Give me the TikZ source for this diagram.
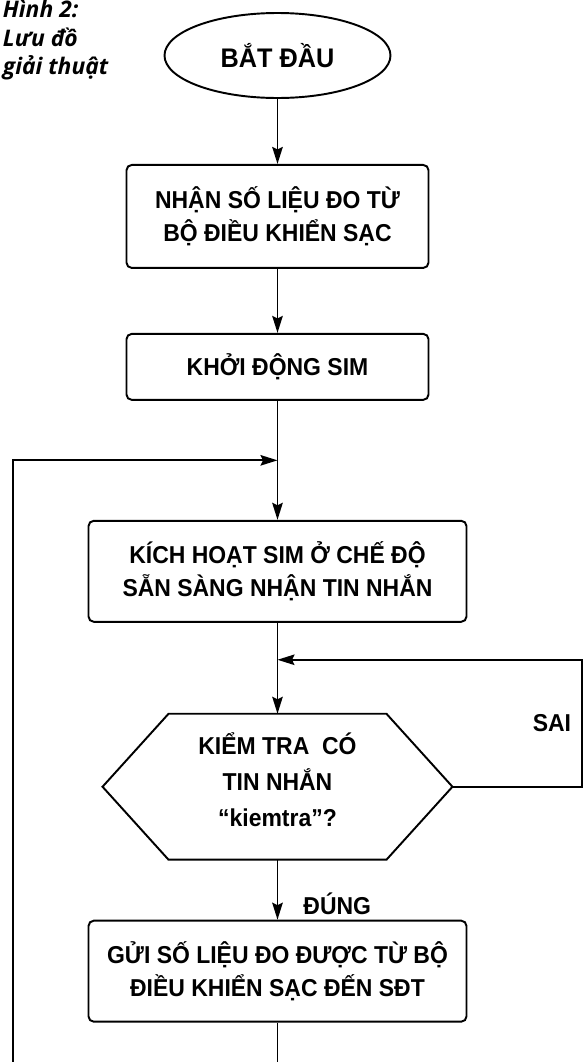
\documentclass[tikz,border=0pt]{standalone}
\usepackage{fontspec}
\setmainfont{Liberation Sans}
\newfontfamily\flowfont[FakeStretch=0.94]{Liberation Sans}
\newfontfamily\capfont{Open Sans}
\usetikzlibrary{arrows.meta,positioning,shapes.geometric,calc}

\begin{document}
\begin{tikzpicture}[>={Stealth[length=0.34cm,width=0.21cm,inset=0.05cm]},line width=1.1pt,
    node distance=1.3cm,
    every node/.style={font=\flowfont\bfseries\fontsize{13.9}{19}\selectfont,inner sep=0pt},
    term/.style={ellipse,draw,minimum width=4.52cm,minimum height=1.7cm,
      font=\flowfont\bfseries\fontsize{15.3}{19}\selectfont},
    proc/.style={rectangle,draw,rounded corners=3pt,align=center,minimum width=6.04cm},
    wide/.style={proc,minimum width=7.56cm,minimum height=2.02cm},
    cond/.style={rectangle,minimum width=6.96cm,minimum height=2.88cm},
    condtext/.style={align=center,font=\flowfont\bfseries\fontsize{13.9}{20.5}\selectfont}]
  \useasboundingbox (0,0) rectangle (11.7,-21.24);

  \node[anchor=north west,align=left,font=\capfont\itshape\bfseries\fontsize{13}{16.3}\selectfont]
    (fig) at (0.04,0.02) {Hình 2:\\Lưu đồ\\giải thuật};

  \node[term]                                  (start) at (5.55,-1.11) {BẮT ĐẦU};
  \node[proc,minimum height=2.06cm,below=of start] (recv) {NHẬN SỐ LIỆU ĐO TỪ\\BỘ ĐIỀU KHIỂN SẠC};
  \node[proc,minimum height=1.32cm,below=1.28cm of recv]  (sim)  {KHỞI ĐỘNG SIM};
  \node[wide,below=2.38cm of sim]                  (ready) {KÍCH HOẠT SIM Ở CHẾ ĐỘ\\SẴN SÀNG NHẬN TIN NHẮN};
  \node[cond,below=1.82cm of ready]                (check) {};
  \node[condtext] (checktext) at ([yshift=0.14cm]check.center) {KIỂM TRA\ \ CÓ\\TIN NHẮN\\“kiemtra”?};
  \node[wide,below=1.2cm of check]                 (send) {GỬI SỐ LIỆU ĐO ĐƯỢC TỪ BỘ\\ĐIỀU KHIỂN SẠC ĐẾN SĐT};

  % hexagon round the test
  \draw ([xshift=1.32cm]check.north west) -- ([xshift=-1.32cm]check.north east) -- (check.east)
     -- ([xshift=-1.32cm]check.south east) -- ([xshift=1.32cm]check.south west) -- (check.west) -- cycle;

  \coordinate (backA) at ($(sim.south)!0.5!(ready.north)$);
  \coordinate[below=0.74cm of ready] (backB);
  \coordinate (rightB) at (backB -| 11.64,0);
  \coordinate (leftEnd) at (0.26,-21.4);
  \coordinate (sendEnd) at (send.south |- 0,-21.4);

  \path[->] (start) edge (recv)
            (recv)  edge (sim)
            (sim)   edge (ready)
            (ready) edge (check)
            (check) edge node[right=0.5cm,pos=0.74] {ĐÚNG} (send);
  \draw[->] (leftEnd) |- (backA);
  \draw[->] (check.east) -| node[left=0.2cm,pos=0.75] {SAI} (rightB) -- (backB);
  \draw (send) -- (sendEnd);
\end{tikzpicture}
\end{document}
